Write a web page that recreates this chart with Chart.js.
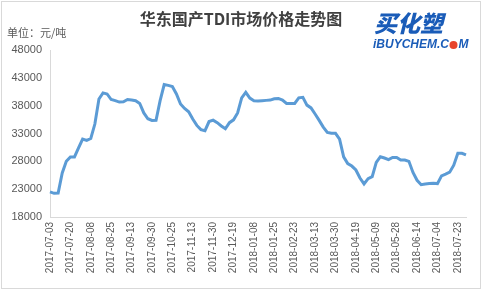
<!DOCTYPE html>
<html>
<head>
<meta charset="utf-8">
<script src="https://cdn.jsdelivr.net/npm/chart.js@4.4.0/dist/chart.umd.min.js"></script>
<style>
  body { margin: 0; background: #fff; }
  canvas { display: block; }
</style>
</head>
<body>
<canvas id="tdiChart" width="483" height="291"></canvas>
<script>
// tick labels shown every 5th point
const tickDates = ["2017-07-03", "2017-07-20", "2017-08-08", "2017-08-25", "2017-09-13",
    "2017-09-30", "2017-10-25", "2017-11-13", "2017-11-30", "2017-12-19",
    "2018-01-08", "2018-01-25", "2018-02-23", "2018-03-13", "2018-03-30",
    "2018-04-19", "2018-05-09", "2018-05-28", "2018-06-14", "2018-07-04", "2018-07-23"];

// 元/吨
const prices = [
    22500, 22250, 22300, 25900, 28000, 28800, 28800, 30400, 32000, 31750,
    32100, 34700, 39200, 40300, 40100, 39100, 38900, 38650, 38700, 39100,
    39000, 38900, 38400, 36700, 35650, 35350, 35380, 38900, 41800, 41650,
    41450, 40100, 38300, 37500, 36900, 35600, 34450, 33700, 33500, 35150,
    35400, 34950, 34350, 33850, 34950, 35450, 36700, 39400, 40400, 39350,
    38900, 38850, 38900, 38950, 39000, 39250, 39300, 39000, 38400, 38400,
    38400, 39400, 39500, 38100, 37600, 36500, 35350, 34150, 33200, 33030,
    33030, 32000, 28800, 27600, 27150, 26450, 25000, 23950, 24900, 25250,
    27800, 28830, 28600, 28300, 28700, 28700, 28240, 28240, 28000, 26000,
    24600, 23800, 23930, 24000, 24050, 24000, 25400, 25700, 26050, 27300,
    29440, 29440, 29150
];

const yMin = 18000;
const yMax = 48000;
const yStep = 5000;

const labels = prices.map((p, i) => (i % 5 === 0 && tickDates[i / 5]) ? tickDates[i / 5] : "");

const decor = {
    id: "decor",
    afterDraw(chart) {
        const ctx = chart.ctx;
        ctx.save();
        // frame
        ctx.strokeStyle = "#d9d9d9";
        ctx.lineWidth = 1;
        ctx.strokeRect(1.5, 1.5, 479, 287);

        // title
        ctx.fillStyle = "#404040";
        ctx.font = "bold 16px 'Noto Sans CJK SC', sans-serif";
        ctx.textAlign = "center";
        ctx.textBaseline = "middle";
        ctx.fillText("华东国产TDI市场价格走势图", 241, 19);

        // unit
        ctx.fillStyle = "#595959";
        ctx.font = "11px 'Noto Sans CJK SC', sans-serif";
        ctx.textAlign = "left";
        ctx.fillText("单位：元/吨", 7, 33);

        // logo
        ctx.fillStyle = "#1a5cb8";
        ctx.font = "italic 900 23px 'Noto Sans CJK SC', sans-serif";
        ctx.fillText("买化塑", 374, 23);
        ctx.font = "italic bold 12px 'Liberation Sans', sans-serif";
        const part1 = "iBUYCHEM.C";
        ctx.fillText(part1, 373, 45);
        let w = ctx.measureText(part1).width;
        ctx.fillStyle = "#e8442c";
        ctx.beginPath();
        ctx.arc(373 + w + 4.5, 45, 4, 0, Math.PI * 2);
        ctx.fill();
        ctx.fillStyle = "#1a5cb8";
        ctx.fillText("M", 373 + w + 9.5, 45);
        ctx.restore();
    }
};

new Chart(document.getElementById("tdiChart"), {
    type: "line",
    data: {
        labels: labels,
        datasets: [{
            data: prices,
            borderColor: "#5b9bd5",
            borderWidth: 3,
            pointRadius: 0,
            tension: 0,
            fill: false
        }]
    },
    options: {
        responsive: false,
        animation: false,
        layout: { padding: { top: 50, right: 16, left: 0, bottom: 0 } },
        plugins: { legend: { display: false }, tooltip: { enabled: false } },
        scales: {
            x: {
                grid: { display: false, drawTicks: false },
                border: { color: "#d9d9d9" },
                ticks: {
                    autoSkip: false,
                    minRotation: 90,
                    maxRotation: 90,
                    padding: 5,
                    color: "#595959",
                    font: { size: 10, family: "'Liberation Sans', Arial, sans-serif" }
                },
                afterFit: (s) => { s.height = 74; }
            },
            y: {
                min: yMin,
                max: yMax,
                grid: { display: false, drawTicks: false },
                border: { color: "#d9d9d9" },
                ticks: {
                    stepSize: yStep,
                    padding: 8,
                    color: "#595959",
                    font: { size: 11, family: "'Liberation Sans', Arial, sans-serif" },
                    callback: (v) => String(v)
                },
                afterFit: (s) => { s.width = 50; }
            }
        }
    },
    plugins: [decor]
});
</script>
</body>
</html>
